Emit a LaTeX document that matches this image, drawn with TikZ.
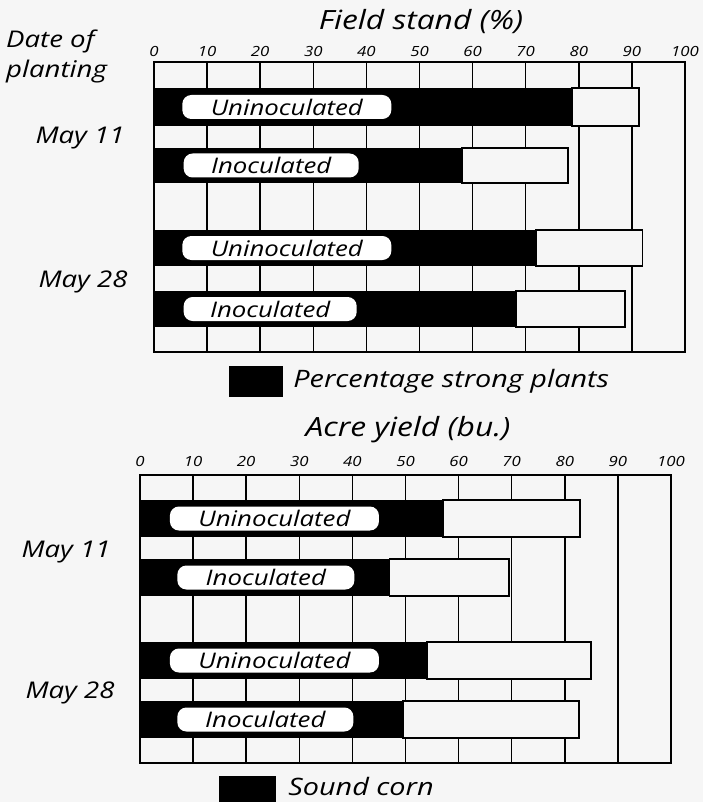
\documentclass[tikz,border=0pt]{standalone}
\usepackage{fontspec}
\setmainfont{Open Sans}[FakeStretch=1.2]
\usetikzlibrary{positioning}
\definecolor{paper}{RGB}{246,246,246}
\tikzset{
  gridline/.style={line width=1.5pt},
  frame/.style={line width=2.6pt},
  rest/.style={fill=paper, draw, line width=1.8pt},
  pill/.style={fill=white, rounded corners=9pt, inner sep=0pt, minimum height=24pt, anchor=west,
    font=\fontsize{21.5}{21.5}\selectfont\itshape},
  tick/.style={font=\fontsize{14}{14}\selectfont\itshape},
  lab/.style={font=\fontsize{23}{30}\selectfont\itshape},
  head/.style={font=\fontsize{26.5}{27}\selectfont\itshape},
  key/.style={font=\fontsize{24}{25}\selectfont\itshape, inner sep=0pt},
  swatch/.style={fill=black, inner sep=0pt},
}
\begin{document}
\begin{tikzpicture}[x=1pt,y=-1pt]
\fill[paper] (0,0) rectangle (703,802);
\useasboundingbox (0,0) rectangle (703,802);

% field stand
\node[head] (fstitle) at (421,22) {Field stand (\%)};
\node[lab, align=left, anchor=west, inner sep=0pt] (date) at (6,56) {Date of\\planting};
\node[lab] (fsmay11) at (80,138) {May 11};
\node[lab] (fsmay28) at (83,282) {May 28};
\begin{scope}[shift={(154,0)}, x=5.31pt]
  \foreach \v in {0,10,...,100} \node[tick] (fs\v) at (\v,51) {\v};
  \foreach \v in {10,20,...,90} \draw[gridline] (\v,62) -- (\v,352);
  \foreach \ya/\yb/\xs/\xe/\pw/\txt [count=\i] in
    {88/126/78.7/91.3/209/Uninoculated, 148/183/58/78/175/Inoculated,
     230/266/72/92/209/Uninoculated, 291/327/68.2/88.7/173/Inoculated}{
    \fill (0,\ya) rectangle (\xs,\yb);
    \draw[rest] (\xs,\ya) rectangle (\xe,\yb);
    \node[pill, minimum width=\pw pt] (fsbar\i) at ({5.3+0.25*(\i==2)+0.25*(\i==4)},{(\ya+\yb)/2}) {\txt};
  }
  \draw[frame] (0,62) rectangle (100,352);
\end{scope}
\node[swatch, minimum width=54pt, minimum height=31pt] (fsswatch) at (256,381.5) {};
\node[key, right=10pt of fsswatch] (fskey) {Percentage strong plants};

% acre yield
\node[head] (aytitle) at (408,430) {Acre yield (bu.)};
\node[lab] (aymay11) at (66,552) {May 11};
\node[lab] (aymay28) at (70,693) {May 28};
\begin{scope}[shift={(140,0)}, x=5.31pt]
  \foreach \v in {0,10,...,100} \node[tick] (ay\v) at (\v,461) {\v};
  \foreach \v in {10,20,...,90} \draw[gridline] (\v,475) -- (\v,763);
  \foreach \ya/\yb/\xs/\xe/\pw/\txt [count=\i] in
    {500/537/57/82.9/209/Uninoculated, 559/596/47/69.5/177/Inoculated,
     642/679/54/85/209/Uninoculated, 701/738/49.6/82.7/176/Inoculated}{
    \fill (0,\ya) rectangle (\xs,\yb);
    \draw[rest] (\xs,\ya) rectangle (\xe,\yb);
    \node[pill, minimum width=\pw pt] (aybar\i) at ({5.6+1.4*(\i==2)+1.4*(\i==4)},{(\ya+\yb)/2}) {\txt};
  }
  \draw[frame] (0,475) rectangle (100,763);
\end{scope}
\node[swatch, minimum width=57pt, minimum height=26pt] (ayswatch) at (247.5,789) {};
\node[key, right=12pt of ayswatch, yshift=3pt] (aykey) {Sound corn};
\end{tikzpicture}
\end{document}
